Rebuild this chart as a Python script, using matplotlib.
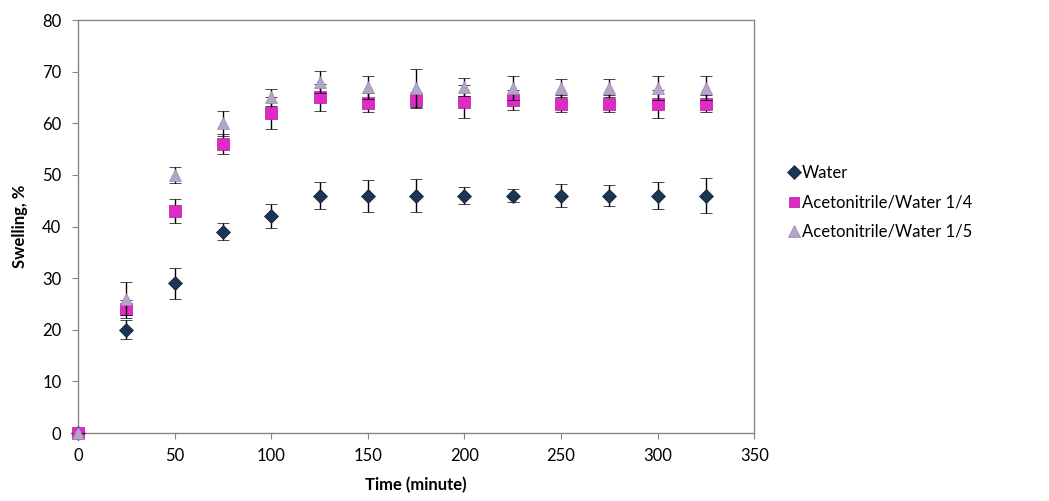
import matplotlib
matplotlib.use("Agg")
import matplotlib.pyplot as plt

plt.rcParams['font.family'] = ['Lato', 'DejaVu Sans']

time = [0, 25, 50, 75, 100, 125, 150, 175, 200, 225, 250, 275, 300, 325]

water = [0, 20, 29, 39, 42, 46, 46, 46, 46, 46, 46, 46, 46, 46]
water_err = [0, 1.8, 3.0, 1.6, 2.3, 2.7, 3.1, 3.2, 1.7, 1.3, 2.3, 2.0, 2.7, 3.4]

acn_14 = [0, 24, 43, 56, 62, 65, 64, 64.5, 64.2, 64.5, 63.8, 63.8, 63.8, 63.8]
acn_14_err = [0, 1.7, 2.4, 2.0, 3.1, 2.6, 1.8, 1.6, 3.2, 2.0, 1.6, 1.7, 2.7, 1.7]

acn_15 = [0, 26, 50, 60, 65, 68, 67, 66.8, 67, 66.8, 66.8, 66.8, 66.8, 66.8]
acn_15_err = [0, 3.2, 1.5, 2.4, 1.7, 2.2, 2.2, 3.7, 1.8, 2.3, 1.7, 1.7, 2.3, 2.3]

labels = ['Water', 'Acetonitrile/Water 1/4', 'Acetonitrile/Water 1/5']

fig = plt.figure(figsize=(10.49, 5.01), dpi=100)
ax = fig.add_axes([0.0744, 0.1357, 0.6446, 0.8243])

series = [
    (water, water_err, 'D', '#1c3553', '#102035', 7.5),
    (acn_14, acn_14_err, 's', '#e02ac6', '#b0189a', 8),
    (acn_15, acn_15_err, '^', '#b5a4c8', '#9a88b0', 9),
]
for i, (vals, errs, mk, fc, ec, ms) in enumerate(series):
    cont = ax.errorbar(time, vals, yerr=errs, fmt=mk, color=fc, ms=ms,
                       mec=ec, mew=0.5, ecolor='black', elinewidth=1,
                       capsize=4.5, capthick=1, label=labels[i], zorder=3 + i)
    cont[0].set_clip_on(False)

ax.set_xlim(0, 350)
ax.set_ylim(0, 80)
ax.set_xticks(range(0, 351, 50))
ax.set_yticks(range(0, 81, 10))

for s in ax.spines.values():
    s.set_color('#878787')
    s.set_linewidth(1)
ax.tick_params(direction='out', length=4, color='#878787', labelsize=12,
               labelcolor='black')
ax.tick_params(axis='x', pad=7)
ax.tick_params(axis='y', pad=8)

ax.set_xlabel('Time (minute)', fontsize=12, fontweight='bold', labelpad=9)
ax.set_ylabel('Swelling, %', fontsize=12, fontweight='bold', labelpad=10)

handles, lbls = ax.get_legend_handles_labels()
handles = [h[0] for h in handles]
leg = fig.legend(handles, lbls, loc='upper left', bbox_to_anchor=(0.738, 0.70),
                 frameon=False, fontsize=12, handlelength=0.6,
                 handletextpad=0.15, labelspacing=0.8, markerscale=0.9)

fig.savefig('out.png', dpi=100)
